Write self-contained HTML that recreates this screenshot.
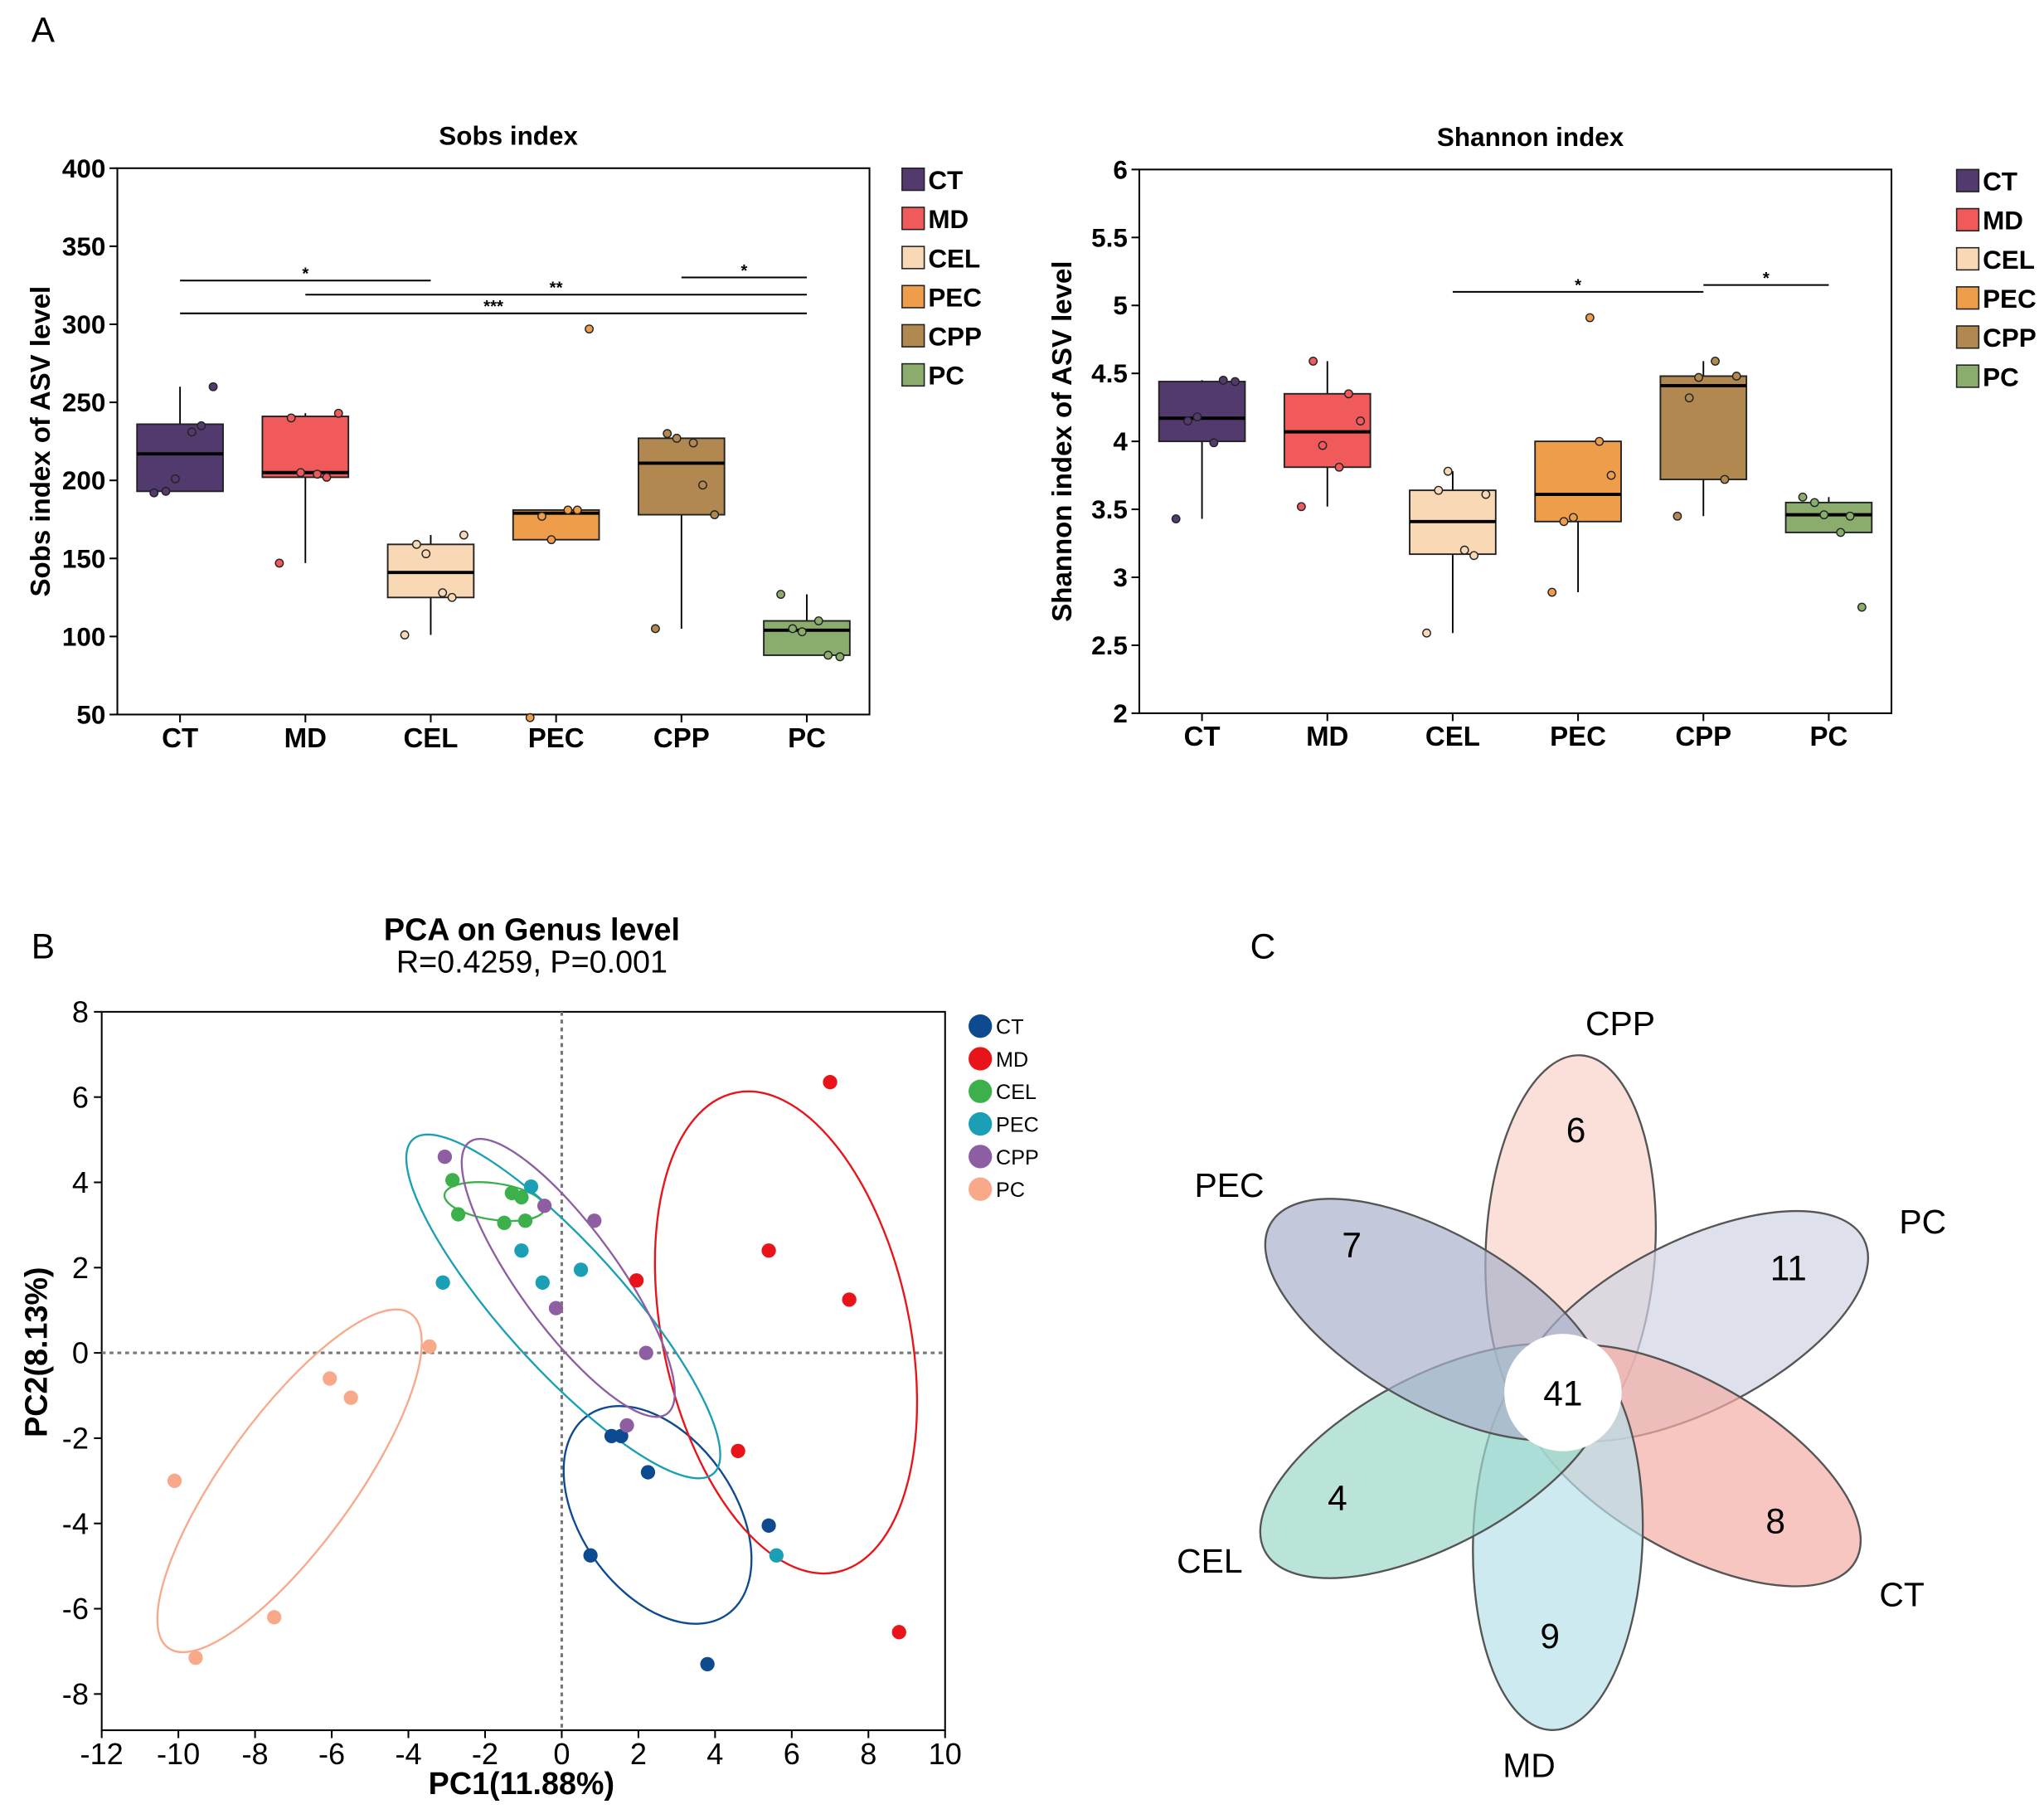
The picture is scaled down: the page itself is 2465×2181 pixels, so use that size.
<!DOCTYPE html>
<html><head><meta charset="utf-8"><style>
html,body{margin:0;padding:0;background:#fff;}
svg{display:block;font-family:"Liberation Sans",sans-serif;}
.nar{font-family:"Liberation Sans Narrow","Liberation Sans",sans-serif;font-weight:bold;}
</style></head><body>
<svg id="fig" width="2465" height="2181" viewBox="0 0 1568 1387.4" xmlns="http://www.w3.org/2000/svg">
<rect width="1568" height="1388" fill="#fff"/>
<text x="24" y="32" font-size="27">A</text>
<text x="24" y="735" font-size="27">B</text>
<text x="959" y="735" font-size="27">C</text>
<g id="sobs"></g>
<g id="shan"></g>
<g id="pca"></g>
<g id="venn"></g>
</svg>
<script>
const groups=["CT","MD","CEL","PEC","CPP","PC"];
const boxColors=["#523a6e","#f05a5b","#f9d9b5","#ee9e4a","#b08850","#8aad6e"];
// Sobs: [whiskerLow, q1, median, q3, whiskerHigh]
const sobsStats=[[193,193,217,236,260],[147,202,205,241,243],[101,125,141,159,165],[162,162,179,181,181],[105,178,211,227,227],[88,88,104,110,127]];
const sobsPoints=[[192,193,201,231,235,260],[147,240,205,204,202,243],[101,159,153,128,125,165],[48,177,162,181,181,297],[105,230,227,224,197,178],[127,105,103,110,88,87]];
const sobsTicks=[50,100,150,200,250,300,350,400];
const sobsSig=[[0,2,328,"*"],[1,5,319,"**"],[0,5,307,"***"],[4,5,330,"*"]];
const shanStats=[[3.43,4.0,4.17,4.44,4.45],[3.52,3.81,4.07,4.35,4.59],[2.59,3.17,3.41,3.64,3.78],[2.89,3.41,3.61,4.0,4.0],[3.45,3.72,4.41,4.48,4.59],[3.33,3.33,3.46,3.55,3.59]];
const shanPoints=[[3.43,4.15,4.18,3.99,4.45,4.44],[3.52,4.59,3.97,3.81,4.35,4.15],[2.59,3.64,3.78,3.20,3.16,3.61],[2.89,3.41,3.44,4.91,4.0,3.75],[3.45,4.32,4.47,4.59,3.72,4.48],[3.59,3.55,3.46,3.33,3.45,2.78]];
const shanTicks=[2,2.5,3,3.5,4,4.5,5,5.5,6];
const shanSig=[[2,4,5.1,"*"],[4,5,5.15,"*"]];

const NS="http://www.w3.org/2000/svg";
function mk(parent,tag,attrs,text){const e=document.createElementNS(NS,tag);for(const k in attrs)e.setAttribute(k,attrs[k]);if(text!==undefined)e.textContent=text;parent.appendChild(e);return e;}

function boxplot(g,o){
  const {x0,x1,y0,y1,vmin,vmax,stats,points,ticks,sig,title,ylab,legX,tickFmt}=o;
  const y=v=>y1-(v-vmin)/(vmax-vmin)*(y1-y0);
  const step=(x1-x0)/6.0;
  const cx=i=>x0+step*(i+0.5);
  const t=mk(g,'text',{x:x0+300,y:y0-18,'text-anchor':'middle','font-size':20,'font-weight':'bold'},title);
  
  const fr=mk(g,'rect',{x:x0,y:y0,width:x1-x0,height:y1-y0,fill:'none',stroke:'#000','stroke-width':1.3});
  
  ticks.forEach(v=>{
    mk(g,'line',{x1:x0-6,x2:x0,y1:y(v),y2:y(v),stroke:'#000','stroke-width':1.3});
    const tl=mk(g,'text',{x:x0-9,y:y(v)+7,'text-anchor':'end','font-size':20,class:'nar'},tickFmt(v));
    
  });
  const yl=mk(g,'text',{transform:`translate(${x0-52},${(y0+y1)/2}) rotate(-90)`,'text-anchor':'middle','font-size':21,'font-weight':'bold'},ylab);
  
  const jit=[-0.55,-0.3,-0.1,0.25,0.45,0.7];
  groups.forEach((gname,i)=>{
    const c=cx(i),s=stats[i],w=33;
    mk(g,'line',{x1:c,x2:c,y1:y1,y2:y1+6,stroke:'#000','stroke-width':1.3});
    const xl=mk(g,'text',{x:c,y:y1+25,'text-anchor':'middle','font-size':21,class:'nar'},gname);
    
    const wl=mk(g,'line',{x1:c,x2:c,y1:y(s[0]),y2:y(s[4]),stroke:'#000','stroke-width':1.2});
    
    const b=mk(g,'rect',{x:c-w,y:y(s[3]),width:2*w,height:y(s[1])-y(s[3]),fill:boxColors[i],stroke:'#222','stroke-width':1.2});
    
    mk(g,'line',{x1:c-w,x2:c+w,y1:y(s[2]),y2:y(s[2]),stroke:'#000','stroke-width':2.5});
    points[i].forEach((v,j)=>{
      const p=mk(g,'circle',{cx:c+jit[j]*w*1.1,cy:y(v),r:3,fill:boxColors[i],stroke:'#222','stroke-width':0.9});
      
    });
    const ly=y0+9+i*30;
    const lr=mk(g,'rect',{x:legX,y:ly-9,width:17,height:17,fill:boxColors[i],stroke:'#222','stroke-width':1});
    
    const lt=mk(g,'text',{x:legX+20,y:ly+7,'font-size':20,class:'nar'},gname);
    
  });
  sig.forEach(s=>{
    const a=cx(s[0]),b2=cx(s[1]),yy=y(s[2]);
    const l=mk(g,'line',{x1:a,x2:b2,y1:yy,y2:yy,stroke:'#000','stroke-width':1.3});
    
    mk(g,'text',{x:(a+b2)/2,y:yy-1,'text-anchor':'middle','font-size':13,'font-weight':'bold'},s[3]);
  });
}
boxplot(document.getElementById('sobs'),{x0:90,x1:667,y0:129,y1:548,vmin:50,vmax:400,stats:sobsStats,points:sobsPoints,ticks:sobsTicks,sig:sobsSig,title:"Sobs index",ylab:"Sobs index of ASV level",legX:692,tickFmt:v=>String(v)});
boxplot(document.getElementById('shan'),{x0:874,x1:1451,y0:130,y1:547,vmin:2,vmax:6,stats:shanStats,points:shanPoints,ticks:shanTicks,sig:shanSig,title:"Shannon index",ylab:"Shannon index of ASV level",legX:1501,tickFmt:v=>String(v)});

// ---------- PCA ----------
const pcaGroups=["CT","MD","CEL","PEC","CPP","PC"];
const pcaColors=["#0d4a8f","#e8141a","#3cb04a","#1a9fb5","#8e5ea2","#f8a98a"];
const pcaX=[[1.3,1.55,2.25,0.75,5.4,3.8],[7.0,5.4,7.5,1.95,4.6,8.8],[-2.85,-2.7,-1.3,-1.05,-1.5,-0.95],[-0.8,-1.05,0.5,-0.5,-3.1,5.6],[-3.05,-0.45,0.85,-0.15,2.2,1.7],[-3.45,-6.05,-5.5,-10.1,-7.5,-9.55]];
const pcaY=[[-1.95,-1.95,-2.8,-4.75,-4.05,-7.3],[6.35,2.4,1.25,1.7,-2.3,-6.55],[4.05,3.25,3.75,3.65,3.05,3.1],[3.9,2.4,1.95,1.65,1.65,-4.75],[4.6,3.45,3.1,1.05,0.0,-1.7],[0.15,-0.6,-1.05,-3.0,-6.2,-7.15]];
const ellCx=[2.5,5.85,-1.75,0.04,0.17,-7.1];
const ellCy=[-3.8,0.48,3.55,1.09,1.76,-3.0];
const ellRx=[1.9,3.05,1.25,5.55,4.15,5.1];
const ellRy=[3.0,6.05,0.45,1.5,1.22,1.6];
const ellAng=[-35,-12,8,48,54,-54];
const pcaXTicks=[-12,-10,-8,-6,-4,-2,0,2,4,6,8,10];
const pcaYTicks=[-8,-6,-4,-2,0,2,4,6,8];
(function(){
  const g=document.getElementById('pca');
  const X0=78,X1=725,Y0=776,Y1=1327;
  const px=v=>X0+(v+12)/22*(X1-X0);
  const py=v=>776+(8-v)*32.7;
  const kx=(X1-X0)/22, ky=32.7;
  const t1=mk(g,'text',{x:408,y:721,'text-anchor':'middle','font-size':24,'font-weight':'bold'},"PCA on Genus level");
  
  const t2=mk(g,'text',{x:408,y:746,'text-anchor':'middle','font-size':24},"R=0.4259, P=0.001");
  
  const fr=mk(g,'rect',{x:X0,y:Y0,width:X1-X0,height:Y1-Y0,fill:'none',stroke:'#000','stroke-width':1.3});
  
  mk(g,'line',{x1:X0,x2:X1,y1:py(0),y2:py(0),stroke:'#777','stroke-width':2,'stroke-dasharray':'3,3'});
  mk(g,'line',{x1:px(0),x2:px(0),y1:Y0,y2:Y1,stroke:'#777','stroke-width':2,'stroke-dasharray':'3,3'});
  pcaXTicks.forEach(v=>{mk(g,'line',{x1:px(v),x2:px(v),y1:Y1,y2:Y1+6,stroke:'#000','stroke-width':1.3});
    const l=mk(g,'text',{x:px(v),y:Y1+26,'text-anchor':'middle','font-size':23},String(v));
    });
  pcaYTicks.forEach(v=>{mk(g,'line',{x1:X0-6,x2:X0,y1:py(v),y2:py(v),stroke:'#000','stroke-width':1.3});
    const l=mk(g,'text',{x:X0-10,y:py(v)+8,'text-anchor':'end','font-size':23},String(v));
    });
  const xl=mk(g,'text',{x:400,y:1376,'text-anchor':'middle','font-size':24,'font-weight':'bold'},"PC1(11.88%)");
  
  const yl=mk(g,'text',{transform:`translate(36,1037) rotate(-90)`,'text-anchor':'middle','font-size':24,'font-weight':'bold'},"PC2(8.13%)");
  
  const u=(kx+ky)/2;
  pcaGroups.forEach((gn,i)=>{
    const e=mk(g,'ellipse',{cx:px(ellCx[i]),cy:py(ellCy[i]),rx:ellRx[i]*u,ry:ellRy[i]*u,fill:'none',stroke:pcaColors[i],'stroke-width':1.5,transform:`rotate(${ellAng[i]} ${px(ellCx[i])} ${py(ellCy[i])})`});
    
    
  });
  pcaGroups.forEach((gn,i)=>{
    pcaX[i].forEach((xv,j)=>{
      const c=mk(g,'circle',{cx:px(xv),cy:py(pcaY[i][j]),r:5.5,fill:pcaColors[i]});
      
      
    });
    const ly=787+i*25;
    const lc=mk(g,'circle',{cx:752,cy:ly,r:9,fill:pcaColors[i]});
    
    const lt=mk(g,'text',{x:764,y:ly+6,'font-size':16},gn);
    
  });
})();

// ---------- Venn flower ----------
const vennSets=["CPP","PC","CT","MD","CEL","PEC"];
const vennUnique=[6,11,8,9,4,7];
const vennCore=41;
const vennAngles=[87,27,-30,-92,-152,150];
const vennColors=["#f9d3c9","#d0d3e3","#f3aea6","#b8e1ea","#9cd8cb","#aab0ca"];
const vennNumPos=[[1209,866],[1372,972],[1362,1166],[1189,1254],[1026,1148],[1037,954]];
const vennLabPos=[[1243,785],[1475,937],[1459,1223],[1173,1354],[928,1197],[943,909]];
(function(){
  const g=document.getElementById('venn');
  const C=[1199,1068],D=112,rx=147,ry=65;
  vennSets.forEach((s,i)=>{
    const a=vennAngles[i]*Math.PI/180;
    const ex=C[0]+D*Math.cos(a),ey=C[1]-D*Math.sin(a);
    const e=mk(g,'ellipse',{cx:ex,cy:ey,rx:rx,ry:ry,fill:vennColors[i],'fill-opacity':0.7,stroke:'#555','stroke-width':1.5,transform:`rotate(${-vennAngles[i]} ${ex} ${ey})`});
    
    
  });
  vennSets.forEach((s,i)=>{
    const n=mk(g,'text',{x:vennNumPos[i][0],y:vennNumPos[i][1]+10,'text-anchor':'middle','font-size':27},String(vennUnique[i]));
    
    
    const l=mk(g,'text',{x:vennLabPos[i][0],y:vennLabPos[i][1]+9,'text-anchor':'middle','font-size':26},s);
    
    
  });
  const c=mk(g,'circle',{cx:C[0],cy:C[1],r:45,fill:'#fff'});
  
  const t=mk(g,'text',{x:C[0],y:C[1]+10,'text-anchor':'middle','font-size':27},String(vennCore));
  
})();
</script>
</body></html>
